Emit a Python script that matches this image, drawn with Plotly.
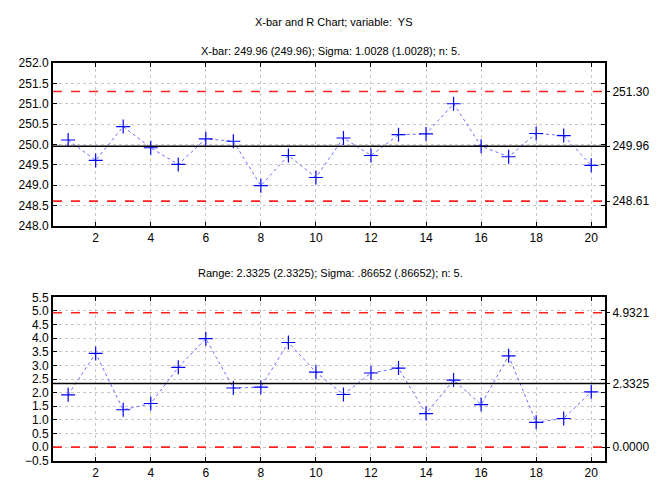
import plotly.graph_objects as go

# Subgroup numbers
samples = list(range(1, 21))

# Subgroup means (X-bar chart)
xbar_values = [250.11, 249.61, 250.44, 249.92, 249.51, 250.14, 250.08, 248.99, 249.73, 249.19,
               250.16, 249.73, 250.24, 250.26, 251.00, 249.96, 249.70, 250.27, 250.22, 249.49]
# Subgroup ranges (R chart)
range_values = [1.92, 3.44, 1.37, 1.60, 2.93, 3.98, 2.17, 2.20, 3.84, 2.75,
                1.93, 2.72, 2.90, 1.23, 2.46, 1.56, 3.35, 0.91, 1.05, 2.03]

# Control limits: LCL, centre line, UCL
xbar_limits = [248.61, 249.96, 251.30]
xbar_limit_labels = ["248.61", "249.96", "251.30"]
range_limits = [0.0, 2.3325, 4.9321]
range_limit_labels = ["0.0000", "2.3325", "4.9321"]

x_ticks = list(range(2, 21, 2))
xbar_ticks = [248.0 + 0.5 * i for i in range(9)]
range_ticks = [-0.5 + 0.5 * i for i in range(13)]

FONT = "Liberation Sans, Arial, sans-serif"
X_DOM = [53 / 657, 605 / 657]
TOP_DOM = [1 - 226 / 484, 1 - 63 / 484]
BOT_DOM = [1 - 460.7 / 484, 1 - 297.3 / 484]

fig = go.Figure()

for vals, xa, ya in [(xbar_values, "x", "y"), (range_values, "x2", "y2")]:
    fig.add_trace(go.Scatter(
        x=samples, y=vals, xaxis=xa, yaxis=ya, mode="lines+markers",
        line=dict(color="#6a6aff", width=1, dash="dot"),
        marker=dict(symbol="cross-thin", size=10, line=dict(color="#0000ff", width=1.2)),
        showlegend=False, hoverinfo="x+y"))

shapes = []
for limits, xa, ya in [(xbar_limits, "x", "y"), (range_limits, "x2", "y2")]:
    for i, v in enumerate(limits):
        centre = i == 1
        shapes.append(dict(
            type="line", xref=f"{xa} domain", yref=ya, x0=0, x1=1, y0=v, y1=v,
            line=dict(color="black" if centre else "#ff2020",
                      width=1.5 if centre else 1.6,
                      dash="solid" if centre else "dash"),
            layer="above"))

axis_common = dict(
    showline=True, linecolor="black", linewidth=2, mirror="ticks",
    ticks="inside", ticklen=4, tickcolor="black", automargin=False,
    showgrid=True, gridcolor="#c8c8c8", griddash="dot", gridwidth=1,
    zeroline=False, tickfont=dict(family=FONT, size=12, color="black"))

right_common = dict(
    side="right", ticks="outside", ticklen=4, tickcolor="black", showgrid=False,
    zeroline=False, showline=False, automargin=False,
    tickfont=dict(family=FONT, size=12, color="black"))

fig.update_layout(
    width=657, height=484,
    margin=dict(l=0, r=0, t=0, b=0, pad=0, autoexpand=False),
    paper_bgcolor="white", plot_bgcolor="white",
    font=dict(family=FONT, size=11, color="black"),
    shapes=shapes,
    xaxis=dict(domain=X_DOM, anchor="y", range=[0.45, 20.5],
               tickvals=x_ticks, **axis_common),
    yaxis=dict(domain=TOP_DOM, anchor="x", range=[248.0, 252.0],
               tickvals=xbar_ticks, tickformat=".1f", **axis_common),
    xaxis2=dict(domain=X_DOM, anchor="y2", range=[0.45, 20.5],
                tickvals=x_ticks, **axis_common),
    yaxis2=dict(domain=BOT_DOM, anchor="x2", range=[-0.5, 5.5],
                tickvals=range_ticks, tickformat=".1f", **axis_common),
    yaxis3=dict(overlaying="y", anchor="x", range=[248.0, 252.0],
                tickvals=xbar_limits, ticktext=xbar_limit_labels, **right_common),
    yaxis4=dict(overlaying="y2", anchor="x2", range=[-0.5, 5.5],
                tickvals=range_limits, ticktext=range_limit_labels, **right_common),
    annotations=[
        dict(text="X-bar and R Chart; variable:  YS", xref="paper", yref="paper",
             x=0.5085, y=1 - 14 / 484, showarrow=False, font=dict(size=11)),
        dict(text="X-bar: 249.96 (249.96); Sigma: 1.0028 (1.0028); n: 5.",
             xref="paper", yref="paper", x=0.503, y=1 - 43 / 484,
             showarrow=False, font=dict(size=11)),
        dict(text="Range: 2.3325 (2.3325); Sigma: .86652 (.86652); n: 5.",
             xref="paper", yref="paper", x=0.503, y=1 - 273 / 484,
             showarrow=False, font=dict(size=11)),
    ],
)

# Invisible traces so the right-hand axes are drawn
fig.add_trace(go.Scatter(x=[samples[0]], y=[xbar_limits[1]], xaxis="x", yaxis="y3",
                         mode="markers", marker=dict(opacity=0), showlegend=False,
                         hoverinfo="skip"))
fig.add_trace(go.Scatter(x=[samples[0]], y=[range_limits[1]], xaxis="x2", yaxis="y4",
                         mode="markers", marker=dict(opacity=0), showlegend=False,
                         hoverinfo="skip"))

fig.write_html("out.html")
